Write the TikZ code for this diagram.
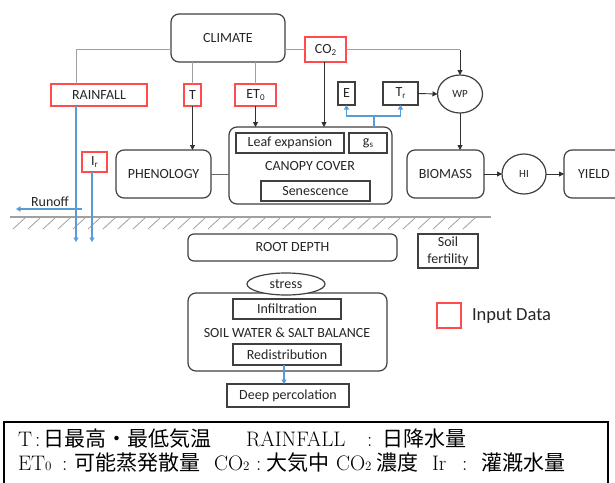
\documentclass[tikz,border=0pt]{standalone}
\usepackage{fontspec}
\setmainfont{Carlito}
\newfontfamily\cjk{Noto Sans CJK JP}
\newfontfamily\lmr{Latin Modern Roman}
\usetikzlibrary{arrows.meta,shapes.geometric,calc}
\definecolor{boxc}{HTML}{404040}
\definecolor{redc}{HTML}{FF4B4B}
\definecolor{bluec}{HTML}{5B9BD5}
\definecolor{grayc}{HTML}{A0A0A0}
\definecolor{darkc}{HTML}{303030}
\newcommand\mysub[1]{\raisebox{-0.3ex}{\fontsize{9}{9}\selectfont #1}}
\newcommand\lmsub[1]{\raisebox{-0.1ex}{\fontsize{13}{13}\selectfont #1}}
\begin{document}
\begin{tikzpicture}[x=1pt,y=-1pt,
  every node/.style={inner sep=0pt, outer sep=0pt, font=\fontsize{14}{16}\selectfont, text=black!85},
  sz/.style 2 args={minimum width=#1pt, minimum height=#2pt},
  rbox/.style={draw=boxc, line width=1.2pt, rounded corners=8pt, fill=white},
  sbox/.style={draw=boxc, line width=1.2pt, fill=white},
  ibox/.style={draw=redc, line width=1.3pt, fill=white},
  ell/.style={ellipse, draw=boxc, line width=1.2pt, fill=white},
  gline/.style={draw=grayc, line width=1pt},
  dline/.style={draw=boxc!80, line width=1pt},
  aline/.style={draw=darkc, line width=0.9pt, -{Triangle[width=5pt,length=5pt]}},
  bline/.style={draw=bluec, line width=1.2pt},
  barrow/.style={-{Triangle[width=5pt,length=4.5pt]}},
  jp/.style={anchor=base west, text=black, font=\cjk\fontsize{21}{22}\selectfont},
  lt/.style={anchor=base west, text=black, font=\lmr\fontsize{21}{22}\selectfont}]
\useasboundingbox (0,0) rectangle (615,482);

% ground
\coordinate (gw) at (10,217);
\coordinate (ge) at (491,217);
\draw[grayc, line width=1.2pt] (gw) -- (ge);
\foreach \x in {13,28,...,463} \draw[grayc, line width=0.8pt] (\x,229) -- ++(12,-11);

% nodes
\node[rbox, sz={114}{48}] (climate) at (228,38) {CLIMATE};
\node[ibox, sz={41}{25}] (co2) at (325.5,49.5) {CO\mysub{2}};
\node[ibox, sz={96}{22}] (rain) at (99,95) {RAINFALL};
\node[ibox, sz={17}{22}] (t) at (192.5,95) {T};
\node[ibox, sz={41}{22}] (et0) at (255.5,95) {ET\mysub{0}};
\node[ibox, sz={25}{20}] (ir) at (94.5,162) {I\mysub{r}};
\node[sbox, sz={17}{23}] (e) at (346.5,93.5) {E};
\node[sbox, sz={35}{23}] (tr) at (400.5,93.5) {T\mysub{r}};
\node[ell, sz={45}{38}, font=\fontsize{11}{12}\selectfont] (wp) at (460,94) {WP};
\node[rbox, sz={95}{48}] (phen) at (163.5,174) {PHENOLOGY};
\node[rbox, sz={163}{77}] (canopy) at (310.5,165.5) {};
\node (canlabel) at (310,166) {CANOPY COVER};
\node[sbox, sz={108}{20}] (leaf) at (290,143) {Leaf expansion};
\node[sbox, sz={38}{20}] (gs) at (368,143) {g\mysub{s}};
\node[sbox, sz={109}{20}] (sen) at (315.5,191) {Senescence};
\node[rbox, sz={77}{48}] (bio) at (445.5,174) {BIOMASS};
\node[ell, sz={44}{40}, font=\fontsize{11}{12}\selectfont] (hi) at (524,174) {HI};
\node[rbox, sz={60}{48}] (yield) at (594,174) {YIELD};
\node[rbox, rounded corners=6pt, sz={209}{27}] (root) at (292.5,247.5) {ROOT DEPTH};
\node[sbox, sz={60}{34}, align=center, font=\fontsize{14}{17}\selectfont] (soil) at (448,251) {Soil\\fertility};
\node[rbox, sz={199}{78}] (swb) at (287.5,332) {};
\node (swblabel) at (287,333) {SOIL WATER \& SALT BALANCE};
\node[ell, sz={78}{22}] (stress) at (286,284) {stress};
\node[sbox, sz={108}{20}] (inf) at (287,309) {Infiltration};
\node[sbox, sz={108}{21}] (redis) at (287,354.5) {Redistribution};
\node[sbox, sz={122}{23}] (deep) at (288,395.5) {Deep percolation};
\node[ibox, sz={24}{25}] (legsq) at (449,315.5) {};
\node[anchor=west, font=\fontsize{18.5}{20}\selectfont] (legtext) at (472,316) {Input Data};

% connectors
\draw[gline] (climate.west |- co2.west) -| ([xshift=-23pt]rain.north);
\draw[gline] (climate.south -| t.north) -- (t.north);
\draw[aline] (t.south) -- (t.south |- phen.north);
\draw[gline] (climate.south -| et0.north) -- (et0.north);
\draw[aline] (et0.south) -- (et0.south |- canopy.north);
\draw[gline] (climate.east |- co2.west) -- (co2.west);
\coordinate (co2corner) at (wp.north |- co2.east);
\draw[gline] (co2.east) -- (co2corner);
\draw[aline] (co2corner) -- (wp.north);
\draw[aline] ([xshift=-1.5pt]co2.south) -- ([xshift=-1.5pt]co2.south |- canopy.north);
\coordinate (bj) at (374,116);
\draw[bline] (canopy.north -| bj) -- (bj);
\draw[bline, barrow] (bj) -| (e.south);
\draw[bline, barrow] (bj) -| (tr.south);
\draw[aline] (tr.east) -- (wp.west);
\draw[aline] (wp.south) -- (wp.south |- bio.north);
\draw[aline] (bio.east) -- (hi.west);
\draw[aline] (hi.east) -- (yield.west);
\draw[dline] (phen.east) -- (phen.east -| canopy.west);
\coordinate (rainend) at (76,242);
\draw[bline, barrow] ([xshift=-23pt]rain.south) -- (rainend);
\coordinate (irend) at (92,242);
\draw[bline, barrow] (ir.south -| irend) -- (irend);
\coordinate (runs) at (82,209);
\coordinate (rune) at (16,209);
\draw[bline, barrow] (runs) -- (rune);
\node[anchor=base] (runofflabel) at (50,206.5) {Runoff};
\draw[bline, barrow] ([xshift=-3pt]redis.south) -- ([xshift=-3pt]redis.south |- deep.north);

% bottom note box
\node[draw=black, line width=2pt, sz={604}{70}, anchor=north west] (notebox) at (4,422) {};
\node[lt] (n1) at (18,446) {T};
\node[lt] (n2) at (35,446) {:};
\node[jp] (n3) at (43,446) {日最高・最低気温};
\node[lt] (n4) at (246,446) {RAINFALL};
\node[lt] (n5) at (367,446) {:};
\node[jp] (n6) at (382,446) {日降水量};
\node[lt] (m1) at (18,470) {ET\lmsub{0}};
\node[lt] (m2) at (62,470) {:};
\node[jp] (m3) at (74,470) {可能蒸発散量};
\node[lt] (m4) at (214,470) {CO\lmsub{2}};
\node[lt] (m5) at (256,470) {:};
\node[jp] (m6) at (266,470) {大気中};
\node[lt] (m7) at (336,470) {CO\lmsub{2}};
\node[jp] (m8) at (376,470) {濃度};
\node[lt] (m9) at (432,470) {Ir};
\node[lt] (m10) at (462,470) {:};
\node[jp] (m11) at (481,470) {灌漑水量};
\end{tikzpicture}
\end{document}
